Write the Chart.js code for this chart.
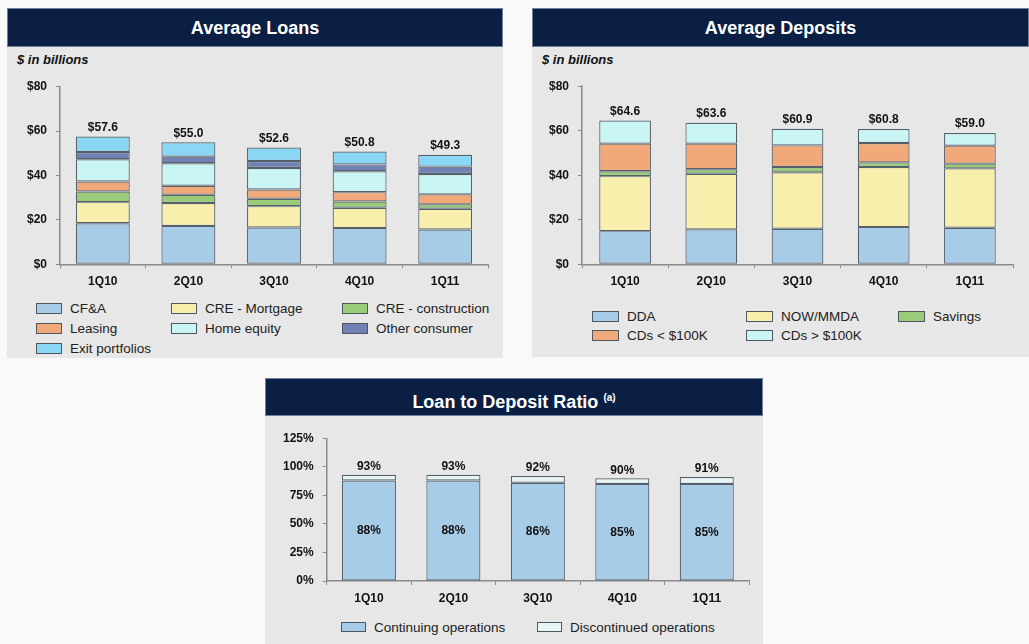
<!DOCTYPE html>
<html>
<head>
<meta charset="utf-8">
<title>Loans, Deposits and Loan to Deposit Ratio</title>
<script src="https://cdn.jsdelivr.net/npm/chart.js@4.4.0/dist/chart.umd.min.js"></script>
<style>
    body {
        margin: 0;
        width: 1029px;
        height: 644px;
        background: #f9f9f9;
        font-family: Arial, "Liberation Sans", sans-serif;
        position: relative;
        overflow: hidden;
    }
    .panel {
        position: absolute;
        background: #e7e7e7;
    }
    .hdr {
        position: absolute;
        left: 0;
        top: 0;
        right: 0;
        background: #0b1f45;
        border: 1px solid #6f7f9c;
        box-sizing: border-box;
        color: #fff;
        font-weight: bold;
        font-size: 18px;
        text-align: center;
    }
    .hdr sup {
        font-size: 10px;
        font-weight: bold;
    }
    .unit {
        position: absolute;
        font-size: 13px;
        font-weight: bold;
        font-style: italic;
        color: #111;
    }
    canvas {
        position: absolute;
    }
    .legend {
        position: absolute;
        display: grid;
        font-size: 13.5px;
        color: #222;
    }
    .legend .item {
        display: flex;
        align-items: center;
        white-space: nowrap;
    }
    .legend .sw {
        display: inline-block;
        box-sizing: border-box;
        border: 1.5px solid #4d5761;
        margin-right: 8px;
    }
</style>
</head>
<body>

<div class="panel" style="left:7px;top:8px;width:496px;height:350px;">
    <div class="hdr" style="height:39px;line-height:38px;">Average Loans</div>
</div>
<div class="unit" style="left:17px;top:52px;">$ in billions</div>
<canvas id="loansChart" width="496" height="225" style="left:7px;top:70px;"></canvas>
<div class="legend" id="loansLegend" style="left:36px;top:298px;grid-template-columns:135px 171px auto;grid-auto-rows:20px;"></div>

<div class="panel" style="left:532px;top:8px;width:497px;height:349px;">
    <div class="hdr" style="height:39px;line-height:38px;">Average Deposits</div>
</div>
<div class="unit" style="left:542px;top:52px;">$ in billions</div>
<canvas id="depositsChart" width="497" height="225" style="left:532px;top:70px;"></canvas>
<div class="legend" id="depositsLegend" style="left:592px;top:307px;grid-template-columns:154px 152px auto;grid-auto-rows:19px;"></div>

<div class="panel" style="left:265px;top:378px;width:498px;height:266px;">
    <div class="hdr" style="height:38px;line-height:37px;">Loan to Deposit Ratio <sup>(a)</sup></div>
</div>
<canvas id="ratioChart" width="498" height="195" style="left:265px;top:420px;"></canvas>
<div class="legend" id="ratioLegend" style="left:341px;top:617px;grid-template-columns:196px auto;grid-auto-rows:20px;"></div>

<script>
// Categories
const quarters = ['1Q10', '2Q10', '3Q10', '4Q10', '1Q11'];

// Average loans, $ billions
const loanCFA = [18.5, 17.3, 16.6, 16.3, 15.7];
const loanCREMortgage = [9.5, 10.3, 9.6, 9.2, 9.3];
const loanCREConstruction = [4.8, 3.7, 3.3, 2.8, 2.0];
const loanLeasing = [4.5, 4.1, 4.2, 4.2, 4.5];
const loanHomeEquity = [10.0, 10.1, 9.7, 9.4, 9.2];
const loanOtherConsumer = [3.3, 3.0, 3.1, 3.1, 3.3];
const loanExitPortfolios = [7.0, 6.5, 6.1, 5.8, 5.3];
const loanTotals = [57.6, 55.0, 52.6, 50.8, 49.3];

// Average deposits, $ billions
const depDDA = [14.9, 15.7, 16.0, 16.7, 16.4];
const depNowMmda = [24.7, 25.0, 25.3, 27.0, 26.7];
const depSavings = [2.2, 2.0, 2.4, 2.1, 2.1];
const depCDsUnder100K = [12.4, 11.5, 9.7, 8.7, 8.1];
const depCDsOver100K = [10.4, 9.4, 7.5, 6.3, 5.7];
const depTotals = [64.6, 63.6, 60.9, 60.8, 59.0];

// Loan to deposit ratio, %
const ratioContinuing = [88, 88, 86, 85, 85];
const ratioDiscontinued = [5, 5, 6, 5, 6];
const ratioTotals = [93, 93, 92, 90, 91];

// Tick labels
const dollarTicks = [0, 20, 40, 60, 80];
const percentTicks = [0, 25, 50, 75, 100, 125];

const COLORS = {
    blue: '#a7cce8',
    yellow: '#f7efab',
    green: '#99cb79',
    orange: '#f1a97a',
    cyan: '#c9f5f5',
    slate: '#7281b3',
    sky: '#8ad7f5',
    pale: '#e9f5f5'
};
const BORDER = '#56606b';
const FONT = 'Arial, "Liberation Sans", sans-serif';

Chart.defaults.font.family = FONT;
Chart.defaults.color = '#111';

// Labels above stacks (and optional inner labels)
const barLabels = {
    id: 'barLabels',
    afterDatasetsDraw(chart, args, opts) {
        const ctx = chart.ctx;
        const last = chart.getDatasetMeta(chart.data.datasets.length - 1);
        ctx.save();
        ctx.font = 'bold 12px ' + FONT;
        ctx.fillStyle = '#111';
        ctx.textAlign = 'center';
        ctx.textBaseline = 'bottom';
        last.data.forEach((bar, i) => {
            ctx.fillText(opts.totals[i], bar.x, bar.y - opts.gap);
        });
        if (opts.inner) {
            const first = chart.getDatasetMeta(0);
            ctx.textBaseline = 'middle';
            first.data.forEach((bar, i) => {
                ctx.fillText(opts.inner[i], bar.x, (bar.y + bar.base) / 2);
            });
        }
        ctx.restore();
    }
};

function makeDataset(label, data, color, pct) {
    return {
        label: label,
        data: data,
        backgroundColor: color,
        borderColor: BORDER,
        borderWidth: 1.2,
        borderSkipped: false,
        barPercentage: pct,
        categoryPercentage: 1
    };
}

function makeOptions(cfg) {
    return {
        responsive: false,
        animation: false,
        devicePixelRatio: 1,
        layout: { padding: cfg.padding },
        plugins: {
            legend: { display: false },
            tooltip: { enabled: false },
            barLabels: cfg.labels
        },
        scales: {
            x: {
                stacked: true,
                afterFit: s => { s.height = cfg.xHeight; },
                border: { display: true, color: '#8a8a8a', width: 1.5 },
                grid: { display: true, drawOnChartArea: false, drawTicks: true, tickLength: 4, color: '#8a8a8a', offset: true },
                ticks: { font: { size: 12, weight: 'bold' }, padding: 6, color: '#111' }
            },
            y: {
                stacked: true,
                min: 0,
                max: cfg.max,
                afterFit: s => { s.width = cfg.yWidth; },
                afterBuildTicks: s => { s.ticks = cfg.ticks.map(v => ({ value: v })); },
                border: { display: true, color: '#8a8a8a', width: 1.5 },
                grid: { display: true, drawOnChartArea: false, drawTicks: true, tickLength: 4, color: '#8a8a8a' },
                ticks: {
                    font: { size: 12, weight: 'bold' },
                    padding: 9,
                    color: '#111',
                    callback: cfg.tickFormat
                }
            }
        }
    };
}

function buildLegend(id, items, swW, swH) {
    const box = document.getElementById(id);
    items.forEach(it => {
        const el = document.createElement('div');
        el.className = 'item';
        const sw = document.createElement('span');
        sw.className = 'sw';
        sw.style.width = swW + 'px';
        sw.style.height = swH + 'px';
        sw.style.background = it.backgroundColor;
        const txt = document.createElement('span');
        txt.textContent = it.label;
        el.appendChild(sw);
        el.appendChild(txt);
        box.appendChild(el);
    });
}

// Average Loans
const loanDatasets = [
    makeDataset('CF&A', loanCFA, COLORS.blue, 0.63),
    makeDataset('CRE - Mortgage', loanCREMortgage, COLORS.yellow, 0.63),
    makeDataset('CRE - construction', loanCREConstruction, COLORS.green, 0.63),
    makeDataset('Leasing', loanLeasing, COLORS.orange, 0.63),
    makeDataset('Home equity', loanHomeEquity, COLORS.cyan, 0.63),
    makeDataset('Other consumer', loanOtherConsumer, COLORS.slate, 0.63),
    makeDataset('Exit portfolios', loanExitPortfolios, COLORS.sky, 0.63)
];
new Chart(document.getElementById('loansChart'), {
    type: 'bar',
    data: { labels: quarters, datasets: loanDatasets },
    options: makeOptions({
        padding: { left: 0, top: 16.7, right: 15, bottom: 0 },
        xHeight: 30.7,
        yWidth: 53,
        max: 80,
        ticks: dollarTicks,
        tickFormat: v => '$' + v,
        labels: { totals: loanTotals.map(v => '$' + v.toFixed(1)), gap: 3 }
    }),
    plugins: [barLabels]
});
buildLegend('loansLegend', loanDatasets, 26, 11);

// Average Deposits
const depDatasets = [
    makeDataset('DDA', depDDA, COLORS.blue, 0.6),
    makeDataset('NOW/MMDA', depNowMmda, COLORS.yellow, 0.6),
    makeDataset('Savings', depSavings, COLORS.green, 0.6),
    makeDataset('CDs < $100K', depCDsUnder100K, COLORS.orange, 0.6),
    makeDataset('CDs > $100K', depCDsOver100K, COLORS.cyan, 0.6)
];
new Chart(document.getElementById('depositsChart'), {
    type: 'bar',
    data: { labels: quarters, datasets: depDatasets },
    options: makeOptions({
        padding: { left: 0, top: 14.3, right: 16, bottom: 0 },
        xHeight: 30.7,
        yWidth: 50,
        max: 80,
        ticks: dollarTicks,
        tickFormat: v => '$' + v,
        labels: { totals: depTotals.map(v => '$' + v.toFixed(1)), gap: 3 }
    }),
    plugins: [barLabels]
});
buildLegend('depositsLegend', depDatasets, 27, 11);

// Loan to Deposit Ratio
const ratioDatasets = [
    makeDataset('Continuing operations', ratioContinuing, COLORS.blue, 0.64),
    makeDataset('Discontinued operations', ratioDiscontinued, COLORS.pale, 0.64)
];
new Chart(document.getElementById('ratioChart'), {
    type: 'bar',
    data: { labels: quarters, datasets: ratioDatasets },
    options: makeOptions({
        padding: { left: 0, top: 18.3, right: 14, bottom: 0 },
        xHeight: 34,
        yWidth: 61.7,
        max: 125,
        ticks: percentTicks,
        tickFormat: v => v + '%',
        labels: {
            totals: ratioTotals.map(v => v + '%'),
            inner: ratioContinuing.map(v => v + '%'),
            gap: 2
        }
    }),
    plugins: [barLabels]
});
buildLegend('ratioLegend', ratioDatasets, 25, 10);
</script>
</body>
</html>
